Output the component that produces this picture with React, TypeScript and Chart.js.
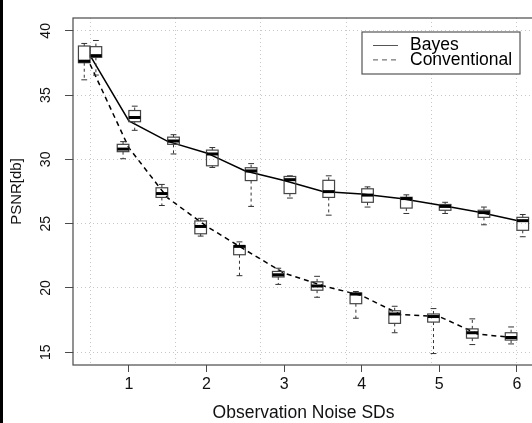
import { useEffect, useRef } from "react";
import { Chart, registerables } from "chart.js";

Chart.register(...registerables);

// Observation noise SDs (category positions)
const noiseSDs = [0.5, 1, 1.5, 2, 2.5, 3, 3.5, 4, 4.5, 5, 5.5, 6];
const xTicks = [1, 2, 3, 4, 5, 6];
const yTicks = [15, 20, 25, 30, 35, 40];
const xGridLines = [0.5, 1.6, 2.7, 3.8, 4.9, 6.0];

// Line series (PSNR)
const bayesLine = [38.1, 33.0, 31.4, 30.5, 29.1, 28.35, 27.5, 27.3, 26.95, 26.45, 25.9, 25.25];
const convLine = [37.4, 30.9, 27.0, 24.8, 22.95, 21.15, 20.17, 19.4, 17.92, 17.77, 16.4, 16.1];

// Box statistics: Bayes
const bayesLow = [36.56, 32.26, 30.42, 29.37, 26.34, 26.99, 25.66, 26.29, 25.79, 25.79, 24.91, 23.98];
const bayesQ1 = [37.94, 32.93, 31.17, 29.5, 28.35, 27.34, 27.04, 26.66, 26.21, 26.04, 25.49, 24.48];
const bayesMed = [38.07, 33.26, 31.43, 30.42, 29.1, 28.42, 27.49, 27.22, 26.95, 26.34, 25.86, 25.23];
const bayesQ3 = [38.77, 33.8, 31.73, 30.72, 29.35, 28.67, 28.37, 27.71, 27.05, 26.49, 26.04, 25.49];
const bayesHigh = [39.25, 34.14, 31.92, 30.92, 29.67, 28.72, 28.72, 27.86, 27.24, 26.66, 26.29, 25.71];

// Box statistics: Conventional
const convLow = [36.19, 30.05, 26.41, 24.03, 20.95, 20.27, 19.27, 17.64, 16.51, 14.89, 15.59, 15.64];
const convQ1 = [37.52, 30.6, 27.04, 24.21, 22.58, 20.85, 19.82, 18.77, 17.24, 17.34, 16.09, 15.94];
const convMed = [37.64, 30.8, 27.34, 24.78, 23.23, 21.02, 20.15, 19.52, 17.97, 17.77, 16.51, 16.14];
const convQ3 = [38.82, 31.17, 27.79, 25.21, 23.28, 21.28, 20.47, 19.6, 18.22, 17.97, 16.81, 16.51];
const convHigh = [39.02, 31.38, 28.05, 25.41, 23.58, 21.53, 20.9, 19.72, 18.57, 18.39, 17.59, 16.96];

const FONT = "'Liberation Sans', Arial, Helvetica, sans-serif";
const AXIS_COLOR = "#4a4a4a";

const boxplotPlugin = {
  id: "boxplots",
  afterDatasetsDraw(chart: any) {
    const { ctx } = chart;
    const xs = chart.scales.x;
    const ys = chart.scales.y;
    const groups = [
      { offset: 0.075, low: bayesLow, q1: bayesQ1, med: bayesMed, q3: bayesQ3, high: bayesHigh },
      { offset: -0.075, low: convLow, q1: convQ1, med: convMed, q3: convQ3, high: convHigh },
    ];
    const halfW = (xs.getPixelForValue(0.075) - xs.getPixelForValue(0)) ;
    ctx.save();
    for (const g of groups) {
      for (let i = 0; i < noiseSDs.length; i++) {
        const cx = xs.getPixelForValue(noiseSDs[i] + g.offset);
        const pLow = ys.getPixelForValue(g.low[i]);
        const pQ1 = ys.getPixelForValue(g.q1[i]);
        const pMed = ys.getPixelForValue(g.med[i]);
        const pQ3 = ys.getPixelForValue(g.q3[i]);
        const pHigh = ys.getPixelForValue(g.high[i]);
        // whiskers
        ctx.strokeStyle = "#333";
        ctx.lineWidth = 1;
        ctx.setLineDash([3, 3]);
        ctx.beginPath();
        ctx.moveTo(cx, pQ3);
        ctx.lineTo(cx, pHigh);
        ctx.moveTo(cx, pQ1);
        ctx.lineTo(cx, pLow);
        ctx.stroke();
        ctx.setLineDash([]);
        // staples
        ctx.beginPath();
        ctx.moveTo(cx - halfW / 2, pHigh);
        ctx.lineTo(cx + halfW / 2, pHigh);
        ctx.moveTo(cx - halfW / 2, pLow);
        ctx.lineTo(cx + halfW / 2, pLow);
        ctx.stroke();
        // box
        ctx.strokeStyle = "#444";
        ctx.lineWidth = 1.2;
        ctx.strokeRect(cx - halfW, pQ3, halfW * 2, pQ1 - pQ3);
        // median
        ctx.strokeStyle = "#000";
        ctx.lineWidth = 3;
        ctx.beginPath();
        ctx.moveTo(cx - halfW, pMed);
        ctx.lineTo(cx + halfW, pMed);
        ctx.stroke();
      }
    }
    ctx.restore();
  },
};

const framePlugin = {
  id: "frame",
  afterDraw(chart: any) {
    const { ctx, chartArea } = chart;
    ctx.save();
    ctx.strokeStyle = AXIS_COLOR;
    ctx.lineWidth = 1.2;
    ctx.strokeRect(chartArea.left, chartArea.top, chartArea.right - chartArea.left, chartArea.bottom - chartArea.top);
    ctx.restore();
  },
};

const legendPlugin = {
  id: "innerLegend",
  afterDraw(chart: any) {
    const { ctx, chartArea } = chart;
    const w = 158;
    const h = 42;
    const right = chartArea.right - 14;
    const top = chartArea.top + 14;
    const left = right - w;
    ctx.save();
    ctx.fillStyle = "#fff";
    ctx.fillRect(left, top, w, h);
    ctx.strokeStyle = "#555";
    ctx.lineWidth = 1.2;
    ctx.strokeRect(left, top, w, h);
    ctx.font = `17.5px ${FONT}`;
    ctx.textBaseline = "middle";
    ctx.textAlign = "left";
    chart.data.datasets.forEach((ds: any, i: number) => {
      const yy = top + 13.5 + i * 14.4;
      ctx.strokeStyle = "#555";
      ctx.lineWidth = 1;
      ctx.setLineDash(ds.borderDash || []);
      ctx.beginPath();
      ctx.moveTo(left + 11, yy);
      ctx.lineTo(left + 36, yy);
      ctx.stroke();
      ctx.setLineDash([]);
      ctx.fillStyle = "#000";
      ctx.fillText(ds.label, left + 48, yy);
    });
    ctx.restore();
  },
};

export default function App() {
  const canvasRef = useRef<HTMLCanvasElement | null>(null);

  useEffect(() => {
    document.body.style.margin = "0";
    document.body.style.overflow = "hidden";
    const canvas = canvasRef.current;
    if (!canvas) return;
    const chart = new Chart(canvas, {
      type: "line",
      data: {
        datasets: [
          {
            label: "Bayes",
            data: noiseSDs.map((x, i) => ({ x, y: bayesLine[i] })),
            borderColor: "#000",
            borderWidth: 1.5,
            pointRadius: 0,
            fill: false,
            tension: 0,
          },
          {
            label: "Conventional",
            data: noiseSDs.map((x, i) => ({ x, y: convLine[i] })),
            borderColor: "#000",
            borderWidth: 1.5,
            borderDash: [5, 4],
            pointRadius: 0,
            fill: false,
            tension: 0,
          },
        ],
      },
      options: {
        animation: false,
        responsive: false,
        devicePixelRatio: 1,
        layout: { padding: { top: 6, right: 11, left: 0, bottom: 0 } },
        plugins: { legend: { display: false }, tooltip: { enabled: false } },
        scales: {
          x: {
            type: "linear",
            min: 0.28,
            max: 6.22,
            position: "bottom",
            afterBuildTicks: (s: any) => {
              s.ticks = xTicks.map((v) => ({ value: v }));
            },
            afterFit: (s: any) => {
              s.height = 58;
            },
            ticks: {
              color: "#111",
              font: { family: FONT, size: 16, lineHeight: 1 },
              padding: 5,
              autoSkip: false,
              maxRotation: 0,
              callback: (v: any) => String(v),
            },
            grid: {
              display: true,
              drawOnChartArea: false,
              drawTicks: true,
              tickLength: 7,
              tickColor: AXIS_COLOR,
            },
            border: { display: false },
            title: {
              display: true,
              text: "Observation Noise SDs",
              color: "#111",
              font: { family: FONT, size: 17.5, lineHeight: 1 },
              padding: { top: 0, bottom: 1.5 },
            },
          },
          xg: {
            type: "linear",
            min: 0.28,
            max: 6.22,
            position: "bottom",
            afterBuildTicks: (s: any) => {
              s.ticks = xGridLines.map((v) => ({ value: v }));
            },
            ticks: { display: false },
            grid: { display: true, drawTicks: false, color: "#c8c8c8" },
            border: { display: false, dash: [1, 3] },
          },
          y: {
            type: "linear",
            min: 14,
            max: 41,
            position: "left",
            afterBuildTicks: (s: any) => {
              s.ticks = yTicks.map((v) => ({ value: v }));
            },
            afterFit: (s: any) => {
              s.width = 73;
            },
            ticks: {
              color: "#111",
              font: { family: FONT, size: 14, lineHeight: 1 },
              padding: 11,
              minRotation: 90,
              maxRotation: 90,
              crossAlign: "center",
              autoSkip: false,
              callback: (v: any) => String(v),
            },
            grid: {
              display: true,
              drawOnChartArea: true,
              drawTicks: true,
              tickLength: 8,
              color: "#c8c8c8",
              tickColor: AXIS_COLOR,
            },
            border: { display: false, dash: [1, 3] },
            title: {
              display: true,
              text: "PSNR[db]",
              color: "#111",
              font: { family: FONT, size: 15, lineHeight: 1 },
              padding: { top: 9.5, bottom: 0 },
            },
          },
        },
      },
      plugins: [boxplotPlugin, framePlugin, legendPlugin],
    } as any);
    return () => chart.destroy();
  }, []);

  return (
    <div style={{ position: "relative", width: 532, height: 423, overflow: "hidden", background: "#fff" }}>
      <canvas ref={canvasRef} width={545} height={423} style={{ display: "block" }} />
      <div style={{ position: "absolute", left: 0, top: 0, width: 3, height: 423, background: "#000" }} />
    </div>
  );
}
